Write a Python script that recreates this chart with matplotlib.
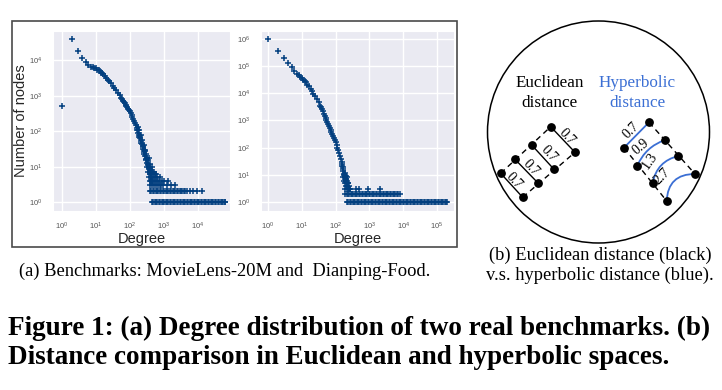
import matplotlib
matplotlib.use("Agg")
import matplotlib.pyplot as plt
import seaborn as sns
from matplotlib.patches import Rectangle, Circle, PathPatch
from matplotlib.path import Path

# ---- data ----
# MovieLens-20M: degree -> number of nodes
ml_curve_deg = [1, 2, 3, 4, 5, 6, 7, 8, 9, 10, 11, 12, 13, 14, 15, 16, 18, 20, 22, 25,
                28, 32, 35, 40, 45, 50, 56, 60, 63, 67, 71, 75, 79, 84, 89, 94, 100, 105,
                112, 119, 126, 133, 141, 150, 158, 168, 178, 189, 200, 212, 224, 237, 251,
                266, 282, 299, 316, 335, 355, 376, 398, 422, 447]
ml_curve_cnt = [525, 39000, 18000, 11500, 8700, 7100, 6600, 6300, 6150, 5900, 5400, 5150,
                4900, 4450, 4200, 4000, 3550, 3150, 2800, 2500, 2200, 1900, 1650, 1400,
                1200, 1050, 870, 790, 720, 660, 600, 550, 500, 465, 430, 395, 360, 330, 280,
                245, 220, 190, 165, 145, 125, 108, 91, 76, 63, 53, 44, 36, 30, 25, 20, 16,
                13, 11, 9, 7, 6, 5, 4]
ml_knee_deg = [160, 170, 180, 190, 205, 215, 230, 240, 255, 265, 275, 290, 300, 310, 320,
               330, 345, 350, 365, 380, 390, 420, 430, 460, 480, 360, 400, 440, 500, 540,
               600, 200, 250, 285]
ml_knee_cnt = [105, 130, 110, 70, 80, 45, 55, 32, 40, 22, 30, 15, 22, 17, 10, 15, 12, 7,
               10, 8, 12, 8, 6, 7, 6, 18, 9, 10, 7, 6, 6, 75, 38, 27]
ml_row5_deg = [370, 420, 480, 550, 640, 780]
ml_row4_deg = [380, 430, 490, 560, 640, 730, 850, 1000, 1300]
ml_row3_deg = [400, 450, 510, 580, 650, 740, 840, 950, 1200, 1650, 2100]
ml_row2_deg = [390, 430, 470, 520, 570, 630, 690, 760, 840, 920, 1010, 1110, 1220, 1340,
               1480, 1630, 1790, 1970, 2170, 2390, 2630, 2890, 3180, 3500, 3850, 4250,
               4600, 5800, 7100, 9300, 13000]
ml_row1_deg = [440, 480, 530, 580, 640, 700, 770, 850, 930, 1020, 1120, 1230, 1350, 1490,
               1640, 1800, 1980, 2180, 2400, 2640, 2900, 3190, 3510, 3860, 4250, 4670,
               5140, 5650, 6220, 6840, 7520, 8270, 9100, 10000, 11000, 12100, 13300,
               14600, 16100, 17700, 19500, 21400, 23600, 25900, 28500, 31400, 34500,
               38000, 41800, 46000, 50500, 55600, 61000, 63000]

# Dianping-Food
dp_curve_deg = [1, 2, 3, 4, 5, 6, 7, 8, 9, 10, 11, 12, 13, 14, 16, 18, 20, 22, 25, 28,
                32, 35, 38, 40, 42, 45, 47, 50, 53, 56, 59, 63, 67, 71, 75, 79, 84, 89,
                94, 100, 106, 112, 119, 126, 133, 141, 150, 158, 168, 178, 189, 200, 212,
                224]
dp_curve_cnt = [1000000, 350000, 190000, 130000, 89000, 66000, 52000, 46000, 40000, 36000,
                31000, 28500, 26000, 21000, 18000, 14500, 12000, 9800, 7900, 6000, 4600,
                3500, 3000, 2600, 2180, 1800, 1500, 1230, 1020, 850, 720, 600, 510, 440,
                370, 320, 270, 235, 190, 160, 126, 100, 80, 63, 49, 38, 29, 22, 16, 11, 9,
                7, 6, 5]
dp_knee_deg = [165, 170, 180, 185, 190, 195, 200, 205, 210, 215, 220, 230, 240, 250, 260,
               175, 235, 150, 160]
dp_knee_cnt = [14, 8, 6, 12, 5, 7, 9, 4, 5, 8, 4, 3, 4, 3, 3, 10, 5, 24, 19]
dp_row3_deg = [190, 210, 240, 270, 390, 490, 930, 2050]
dp_row2_deg = [190, 210, 230, 250, 275, 300, 330, 365, 400, 440, 485, 535, 590, 650, 715,
               785, 865, 950, 1045, 1150, 1265, 1390, 1530, 1680, 1850, 2040, 2240, 2460,
               2710, 2980, 3280, 3610, 3970, 4370, 4800, 5280, 5810, 6390, 7030, 7900]
dp_row1_deg = [215, 235, 260, 285, 315, 345, 380, 420, 460, 505, 555, 610, 670, 740, 810,
               890, 980, 1080, 1190, 1310, 1440, 1580, 1740, 1910, 2100, 2310, 2540, 2800,
               3080, 3380, 3720, 4100, 4500, 4950, 5450, 6000, 6600, 7250, 8000, 8800,
               9650, 10600, 11700, 12900, 14200, 15600, 17100, 18800, 20700, 22800, 25100,
               27600, 30300, 33400, 36700, 40400, 44400, 48800, 53700, 59100, 65000, 71500,
               78600, 86500, 95100, 104600, 115000, 126600, 139200, 153100, 168500,
               185300, 195000]

# diagram nodes (pixel positions inside the figure)
euc_left = [(500.7, 173.3), (515.0, 159.3), (531.7, 145.0), (550.7, 126.7)]
euc_right = [(522.7, 197.3), (538.3, 183.3), (554.0, 169.3), (575.0, 152.3)]
euc_labels = ["0.7", "0.7", "0.7", "0.7"]
euc_label_pos = [(514, 181), (531, 168), (548.5, 153.5), (566.5, 136.5)]
hyp_left = [(624.0, 147.7), (637.3, 165.7), (652.7, 182.7), (666.7, 201.0)]
hyp_right = [(649.0, 122.3), (665.0, 140.0), (678.3, 156.0), (695.0, 174.0)]
hyp_bend = [0.0, 0.22, 0.32, 0.48]
hyp_labels = ["0.7", "0.9", "1.3", "2.7"]
hyp_label_pos = [(631, 130.5), (640.5, 147), (650, 161), (661.5, 176)]
hyp_label_rot = [45, 40, 55, 45]

W, H = 722, 390
MARK = '#023F7F'
BLUE = '#3B6FD4'

sns.set_style("darkgrid")
plt.rcParams['font.family'] = ['Liberation Sans', 'DejaVu Sans']
plt.rcParams['mathtext.fontset'] = 'custom'
plt.rcParams['mathtext.rm'] = 'Liberation Sans'
plt.rcParams['mathtext.it'] = 'Liberation Sans'

fig = plt.figure(figsize=(W / 100, H / 100), dpi=100)


def px_axes(x0, y0, x1, y1):
    return fig.add_axes([x0 / W, 1 - y1 / H, (x1 - x0) / W, (y1 - y0) / H])


def build(curve_d, curve_c, knee_d, knee_c, rows):
    d = list(curve_d) + list(knee_d)
    c = list(curve_c) + list(knee_c)
    for cnt, degs in rows:
        d += list(degs)
        c += [cnt] * len(degs)
    return d, c


def scatter_panel(ax, d, c, xlim, ylim, xmax_exp, ymax_exp):
    ax.scatter(d, c, marker='+', s=14, linewidths=1.1, color=MARK)
    ax.set_xscale('log')
    ax.set_yscale('log')
    ax.set_xlim(*xlim)
    ax.set_ylim(*ylim)
    ax.set_xticks([10 ** k for k in range(xmax_exp + 1)])
    ax.set_yticks([10 ** k for k in range(ymax_exp + 1)])
    ax.minorticks_off()
    ax.tick_params(labelsize=5.5, colors='#555555', pad=4)
    ax.tick_params(axis='x', pad=3.5)
    ax.grid(True, color='white', lw=1.0)
    ax.set_xlabel("Degree", fontsize=10.5, color='#262626', labelpad=0)


ax1 = px_axes(53, 31, 230, 211)
d, c = build(ml_curve_deg, ml_curve_cnt, ml_knee_deg, ml_knee_cnt,
             [(5, ml_row5_deg), (4, ml_row4_deg), (3, ml_row3_deg),
              (2, ml_row2_deg), (1, ml_row1_deg)])
scatter_panel(ax1, d, c, (10 ** -0.26, 10 ** 4.94), (10 ** -0.25, 10 ** 4.82), 4, 4)
ax1.set_ylabel("Number of nodes", fontsize=10.5, color='#262626')
ax1.yaxis.set_label_coords(-0.14, 0.5)

ax2 = px_axes(261, 31, 454, 211)
d, c = build(dp_curve_deg, dp_curve_cnt, dp_knee_deg, dp_knee_cnt,
             [(3, dp_row3_deg), (2, dp_row2_deg), (1, dp_row1_deg)])
scatter_panel(ax2, d, c, (10 ** -0.21, 10 ** 5.5), (10 ** -0.33, 10 ** 6.29), 5, 6)

# overlay in pixel coordinates for box, diagram and captions
ov = fig.add_axes([0, 0, 1, 1], zorder=5)
ov.set_xlim(0, W)
ov.set_ylim(H, 0)
ov.axis('off')
ov.patch.set_alpha(0)

ov.add_patch(Rectangle((12, 21), 445, 226, fill=False, ec='#4a4a4a', lw=1.2))
ov.add_patch(Circle((598.5, 132), 111, fill=False, ec='black', lw=1.1))

serif = ['Liberation Serif', 'DejaVu Serif']
ov.text(550, 83, "Euclidean", family=serif, fontsize=12.3, ha='center', va='center', color='black')
ov.text(550, 103, "distance", family=serif, fontsize=12.3, ha='center', va='center', color='black')
ov.text(637, 83, "Hyperbolic", family=serif, fontsize=12.3, ha='center', va='center', color=BLUE)
ov.text(637, 103, "distance", family=serif, fontsize=12.3, ha='center', va='center', color=BLUE)

dash = dict(color='black', lw=1.0, ls=(0, (4, 3)))
for side in (euc_left, euc_right, hyp_left, hyp_right):
    ov.plot([side[0][0], side[-1][0]], [side[0][1], side[-1][1]], **dash)

for (xa, ya), (xb, yb) in zip(euc_left, euc_right):
    ov.plot([xa, xb], [ya, yb], color='black', lw=1.0)
for lab, (x, y) in zip(euc_labels, euc_label_pos):
    ov.text(x, y, lab, family=serif, fontsize=10, rotation=-47, color='black',
            ha='center', va='center', rotation_mode='anchor')

for (xa, ya), (xb, yb), k in zip(hyp_left, hyp_right, hyp_bend):
    vx, vy = xb - xa, yb - ya
    cx = (xa + xb) / 2 + k * vy
    cy = (ya + yb) / 2 - k * vx
    path = Path([(xa, ya), (cx, cy), (xb, yb)], [Path.MOVETO, Path.CURVE3, Path.CURVE3])
    ov.add_patch(PathPatch(path, fill=False, ec=BLUE, lw=1.3))
for lab, (x, y), r in zip(hyp_labels, hyp_label_pos, hyp_label_rot):
    ov.text(x, y, lab, family=serif, fontsize=10, rotation=r, color='black',
            ha='center', va='center', rotation_mode='anchor')

for side in (euc_left, euc_right, hyp_left, hyp_right):
    ov.scatter([p[0] for p in side], [p[1] for p in side], s=28, color='black', zorder=6)

cap = dict(family=serif, fontsize=13.3, ha='center', va='center', color='black')
ov.text(225, 271, "(a) Benchmarks: MovieLens-20M and  Dianping-Food.", **cap)
ov.text(600, 255, "(b) Euclidean distance (black)", **cap)
ov.text(600, 275, "v.s. hyperbolic distance (blue).", **cap)

title = dict(family=serif, fontweight='bold', fontsize=19.5, ha='left', va='center',
             color='black')
ov.text(8, 328, "Figure 1: (a) Degree distribution of two real benchmarks. (b)", **title)
ov.text(8, 357, "Distance comparison in Euclidean and hyperbolic spaces.", **title)

fig.savefig("out.png", dpi=100)
